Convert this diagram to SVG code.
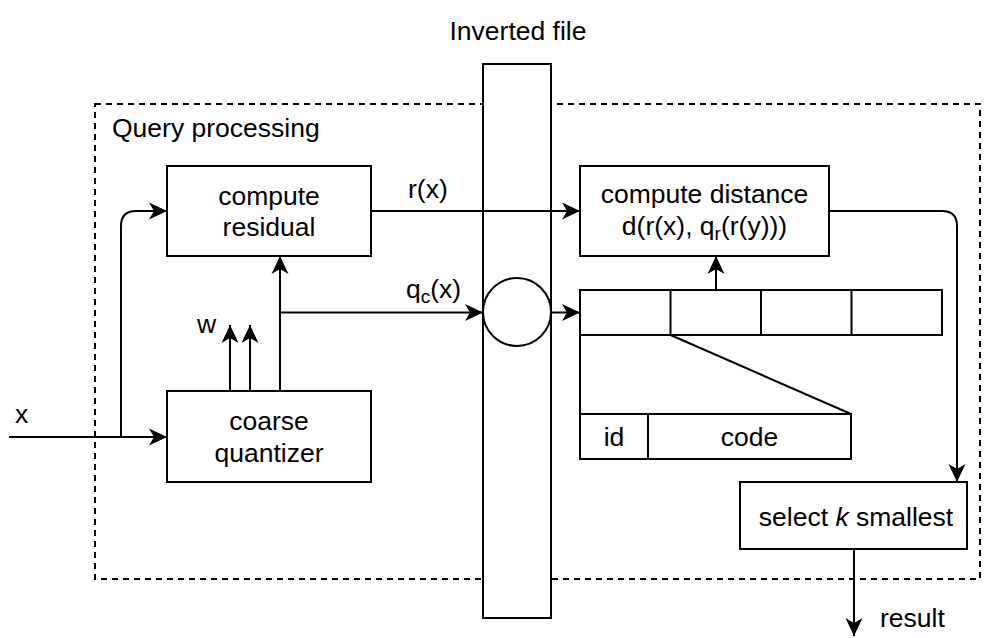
<svg xmlns="http://www.w3.org/2000/svg" width="1000" height="638" viewBox="0 0 1000 638">
<defs>
<marker id="arr" markerUnits="userSpaceOnUse" markerWidth="20" markerHeight="18" refX="18" refY="8.5" orient="auto" overflow="visible">
<path d="M0,0 L18,8.5 L0,17 L5,8.5 z" fill="#000"/>
</marker>
<style>
.box{fill:#fff;stroke:#000;stroke-width:2}
.ln{fill:none;stroke:#000;stroke-width:2}
.dash{fill:none;stroke:#000;stroke-width:2;stroke-dasharray:6 5}
text{font-family:"Liberation Sans",Arial,sans-serif;font-size:26.5px;fill:#000}
.c{text-anchor:middle}
.sub{font-size:19px}
</style>
</defs>
<rect width="1000" height="638" fill="#fff"/>
<g id="query-processing">
<rect class="dash" x="95" y="104" width="885" height="475"/>
<text x="112" y="137">Query processing</text>
</g>
<g id="inverted-file">
<rect class="box" x="483" y="64" width="68" height="554"/>
<text class="c" x="518" y="40">Inverted file</text>
<circle class="box" cx="517" cy="312" r="34"/>
</g>
<g id="compute-residual">
<rect class="box" x="167" y="166" width="204" height="90"/>
<text class="c" x="269" y="205">compute</text>
<text class="c" x="269" y="236">residual</text>
</g>
<g id="coarse-quantizer">
<rect class="box" x="167" y="391" width="204" height="91"/>
<text class="c" x="269" y="430">coarse</text>
<text class="c" x="269" y="462">quantizer</text>
</g>
<g id="compute-distance">
<rect class="box" x="580" y="166" width="249" height="90"/>
<text class="c" x="704.5" y="203">compute distance</text>
<text class="c" x="704.5" y="235">d(r(x), q<tspan class="sub" dy="5">r</tspan><tspan dy="-5">(r(y)))</tspan></text>
</g>
<g id="list-cells">
<rect class="box" x="580" y="290" width="362" height="45"/>
<line class="ln" x1="670.5" y1="290" x2="670.5" y2="335"/>
<line class="ln" x1="761" y1="290" x2="761" y2="335"/>
<line class="ln" x1="851.5" y1="290" x2="851.5" y2="335"/>
</g>
<g id="entry">
<rect class="box" x="580" y="414" width="271" height="45"/>
<line class="ln" x1="648" y1="414" x2="648" y2="459"/>
<text class="c" x="614" y="446">id</text>
<text class="c" x="749.5" y="446">code</text>
</g>
<g id="select-k">
<rect class="box" x="740" y="482" width="227" height="67"/>
<text class="c" x="856" y="526">select <tspan font-style="italic">k</tspan> smallest</text>
</g>
<g id="connectors">
<line class="ln" x1="9" y1="437" x2="167" y2="437" marker-end="url(#arr)"/>
<path class="ln" d="M121,437 V226 Q121,211 136,211 H167" marker-end="url(#arr)"/>
<line class="ln" x1="280" y1="391" x2="280" y2="256" marker-end="url(#arr)"/>
<line class="ln" x1="230" y1="391" x2="230" y2="325" marker-end="url(#arr)"/>
<line class="ln" x1="250" y1="391" x2="250" y2="325" marker-end="url(#arr)"/>
<line class="ln" x1="280" y1="312.5" x2="483" y2="312.5" marker-end="url(#arr)"/>
<line class="ln" x1="371" y1="211" x2="580" y2="211" marker-end="url(#arr)"/>
<line class="ln" x1="551" y1="312.5" x2="580" y2="312.5" marker-end="url(#arr)"/>
<line class="ln" x1="716" y1="290" x2="716" y2="256" marker-end="url(#arr)"/>
<path class="ln" d="M829,211 H942 Q957,211 957,226 V482" marker-end="url(#arr)"/>
<line class="ln" x1="854" y1="549" x2="854" y2="636" marker-end="url(#arr)"/>
<line class="ln" x1="580" y1="335" x2="580" y2="414"/>
<line class="ln" x1="670.5" y1="335" x2="851" y2="414"/>
<text x="15" y="423">x</text>
<text x="197" y="333">w</text>
<text x="408" y="198">r(x)</text>
<text x="406" y="298">q<tspan class="sub" dy="5">c</tspan><tspan dy="-5">(x)</tspan></text>
<text x="880" y="627">result</text>
</g>
</svg>
